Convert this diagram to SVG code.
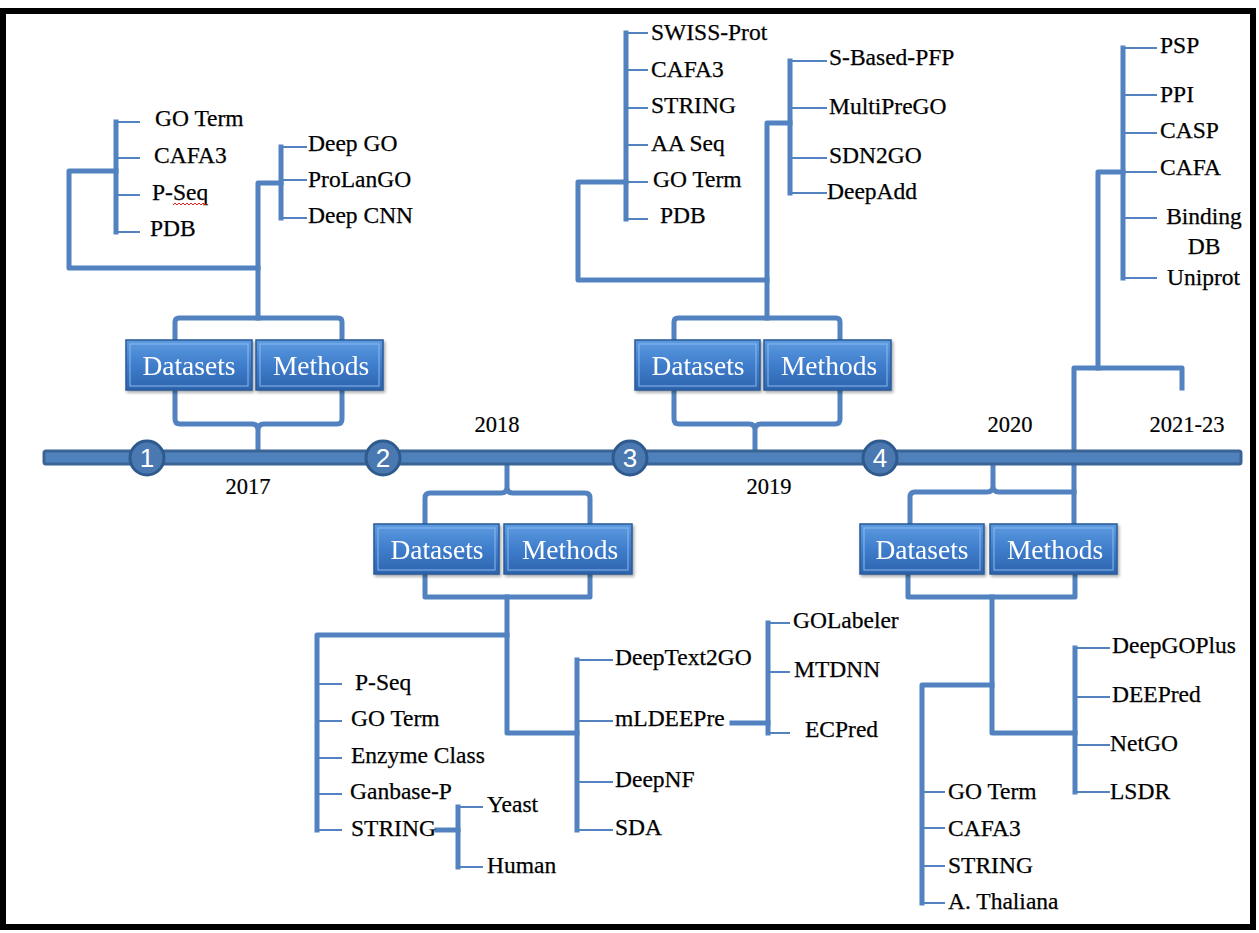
<svg xmlns="http://www.w3.org/2000/svg" width="1259" height="933" viewBox="0 0 1259 933">
<defs>
<linearGradient id="bx" x1="0" y1="0" x2="0" y2="1">
<stop offset="0" stop-color="#5d9be0"/>
<stop offset="0.5" stop-color="#3f7dcc"/>
<stop offset="1" stop-color="#2d64ad"/>
</linearGradient>
<filter id="sh" x="-10%" y="-10%" width="130%" height="140%">
<feDropShadow dx="1.5" dy="2" stdDeviation="1.5" flood-color="#000" flood-opacity="0.35"/>
</filter>
<style>
.k{fill:none;stroke:#5282bf;stroke-width:5;stroke-linejoin:round;stroke-linecap:square}
.t{fill:none;stroke:#5282bf;stroke-width:2.2}
.lf{font-family:"Liberation Serif","Times New Roman",serif;font-size:23.5px;fill:#000;stroke:#000;stroke-width:0.25}
.yr{font-family:"Liberation Serif","Times New Roman",serif;font-size:22.5px;fill:#000;stroke:#000;stroke-width:0.2;text-anchor:middle}
.bt{font-family:"Liberation Serif","Times New Roman",serif;font-size:27.5px;fill:#fff;text-anchor:middle}
.box{fill:url(#bx);stroke:#2a5a98;stroke-width:1.5}
.bev{fill:none;stroke:#8fbdf0;stroke-width:1.2;opacity:0.8}
.num{font-family:"Liberation Sans",Arial,sans-serif;font-size:26px;fill:#fff;text-anchor:middle}
</style>
</defs>
<rect x="0" y="0" width="1259" height="933" fill="#fff"/>
<rect x="3" y="11" width="1250" height="916" fill="#fff" stroke="#000" stroke-width="6"/>

<g id="connectors">
<!-- 2017 -->
<path class="k" d="M175,340 V322 Q175,318 179,318 H338 Q342,318 342,322 V340"/>
<path class="k" d="M258,318 V183 H281"/>
<path class="k" d="M258,268 H69 V171 H116"/>
<path class="k" d="M116,122 V232"/>
<path class="t" d="M116,122 H140 M116,158 H140 M116,195 H140 M116,232 H140"/>
<path class="k" d="M281,147 V218"/>
<path class="t" d="M281,147 H307 M281,180 H307 M281,218 H307"/>
<path class="k" d="M175,390 V419 Q175,424 180,424 H252 Q258,424 258,430 V451 M342,390 V419 Q342,424 337,424 H264 Q258,424 258,430"/>
<!-- 2019 -->
<path class="k" d="M674,340 V322 Q674,318 678,318 H836 Q840,318 840,322 V340"/>
<path class="k" d="M767,318 V123 H790"/>
<path class="k" d="M767,280 H578 V182 H626"/>
<path class="k" d="M626,33 V219"/>
<path class="t" d="M626,33 H648 M626,70 H648 M626,108 H648 M626,145 H648 M626,182 H648 M626,219 H648"/>
<path class="k" d="M790,61 V193"/>
<path class="t" d="M790,61 H827 M790,108 H827 M790,158 H827 M790,193 H827"/>
<path class="k" d="M674,390 V419 Q674,424 679,424 H749 Q755,424 755,430 V451 M840,390 V419 Q840,424 835,424 H761 Q755,424 755,430"/>
<!-- 2018 -->
<path class="k" d="M425,524 V498 Q425,493 430,493 H501 Q507,493 507,487 V465 M590,524 V498 Q590,493 585,493 H513 Q507,493 507,487"/>
<path class="k" d="M425,574 V597 H590 V574"/>
<path class="k" d="M507,597 V733 H577"/>
<path class="k" d="M507,635 H317 V830"/>
<path class="t" d="M317,684 H342 M317,721 H342 M317,758 H342 M317,794 H342 M317,830 H342"/>
<path class="k" d="M437,830 H458"/>
<path class="k" d="M458,807 V867"/>
<path class="t" d="M458,807 H483 M458,867 H483"/>
<path class="k" d="M577,660 V830"/>
<path class="t" d="M577,660 H613 M577,721 H613 M577,782 H613 M577,830 H613"/>
<path class="k" d="M732,723 H768"/>
<path class="k" d="M768,623 V733"/>
<path class="t" d="M768,623 H790 M768,672 H790 M768,733 H790"/>
<!-- 2020 -->
<path class="k" d="M910,524 V497 Q910,492 915,492 H987 Q993,492 993,486 V465 M1074,492 H999 Q993,492 993,486"/>
<path class="k" d="M908,574 V597 H1075 V574"/>
<path class="k" d="M992,597 V733 H1075"/>
<path class="k" d="M992,685 H922 V903"/>
<path class="t" d="M922,792 H945 M922,828 H945 M922,866 H945 M922,903 H945"/>
<path class="k" d="M1075,648 V792"/>
<path class="t" d="M1075,648 H1110 M1075,697 H1110 M1075,745 H1110 M1075,792 H1110"/>
<!-- 2021-23 -->
<path class="k" d="M1074,524 V368 H1182 V388"/>
<path class="k" d="M1098,368 V172 H1123"/>
<path class="k" d="M1123,48 V278"/>
<path class="t" d="M1123,48 H1157 M1123,95 H1157 M1123,133 H1157 M1123,172 H1157 M1123,218 H1157 M1123,278 H1157"/>
</g>

<g id="timeline">
<rect x="44" y="451" width="1197" height="13" rx="2" fill="#4f81bd" stroke="#3b6496" stroke-width="3"/>
</g>
<g id="m1"><circle cx="147" cy="458" r="17" fill="#4a78b0" stroke="#2f5a8e" stroke-width="3"/><text class="num" x="147" y="467">1</text></g>
<g id="m2"><circle cx="383" cy="458" r="17" fill="#4a78b0" stroke="#2f5a8e" stroke-width="3"/><text class="num" x="383" y="467">2</text></g>
<g id="m3"><circle cx="630" cy="458" r="17" fill="#4a78b0" stroke="#2f5a8e" stroke-width="3"/><text class="num" x="630" y="467">3</text></g>
<g id="m4"><circle cx="880" cy="458" r="17" fill="#4a78b0" stroke="#2f5a8e" stroke-width="3"/><text class="num" x="880" y="467">4</text></g>

<g id="years">
<text class="yr" x="248" y="494">2017</text>
<text class="yr" x="497" y="432">2018</text>
<text class="yr" x="769" y="494">2019</text>
<text class="yr" x="1010" y="432">2020</text>
<text class="yr" x="1187" y="432">2021-23</text>
</g>

<g id="boxes2017" filter="url(#sh)">
<rect class="box" x="126" y="340" width="126" height="50"/><rect class="bev" x="130" y="344" width="118" height="42"/>
<text class="bt" x="189" y="375">Datasets</text>
<rect class="box" x="256" y="340" width="127" height="50"/><rect class="bev" x="260" y="344" width="119" height="42"/>
<text class="bt" x="321" y="375">Methods</text>
</g>
<g id="boxes2019" filter="url(#sh)">
<rect class="box" x="635" y="340" width="125" height="50"/><rect class="bev" x="639" y="344" width="117" height="42"/>
<text class="bt" x="698" y="375">Datasets</text>
<rect class="box" x="764" y="340" width="127" height="50"/><rect class="bev" x="768" y="344" width="119" height="42"/>
<text class="bt" x="829" y="375">Methods</text>
</g>
<g id="boxes2018" filter="url(#sh)">
<rect class="box" x="374" y="524" width="125" height="50"/><rect class="bev" x="378" y="528" width="117" height="42"/>
<text class="bt" x="437" y="559">Datasets</text>
<rect class="box" x="504" y="524" width="128" height="50"/><rect class="bev" x="508" y="528" width="120" height="42"/>
<text class="bt" x="570" y="559">Methods</text>
</g>
<g id="boxes2020" filter="url(#sh)">
<rect class="box" x="860" y="524" width="124" height="50"/><rect class="bev" x="864" y="528" width="116" height="42"/>
<text class="bt" x="922" y="559">Datasets</text>
<rect class="box" x="990" y="524" width="127" height="50"/><rect class="bev" x="994" y="528" width="119" height="42"/>
<text class="bt" x="1055" y="559">Methods</text>
</g>

<g id="leaves2017">
<text class="lf" x="155" y="126">GO Term</text>
<text class="lf" x="154" y="163">CAFA3</text>
<text class="lf" x="152" y="200">P-Seq</text>
<path d="M173,205 l2,-2 l2,2 l2,-2 l2,2 l2,-2 l2,2 l2,-2 l2,2 l2,-2 l2,2 l2,-2 l2,2 l2,-2 l2,2 l2,-2 l2,2 l2,-2" fill="none" stroke="#e02020" stroke-width="1"/>
<text class="lf" x="150" y="236">PDB</text>
<text class="lf" x="308" y="151">Deep GO</text>
<text class="lf" x="308" y="187">ProLanGO</text>
<text class="lf" x="308" y="223">Deep CNN</text>
</g>
<g id="leaves2019">
<text class="lf" x="651" y="40">SWISS-Prot</text>
<text class="lf" x="651" y="77">CAFA3</text>
<text class="lf" x="651" y="113">STRING</text>
<text class="lf" x="651" y="151">AA Seq</text>
<text class="lf" x="653" y="187">GO Term</text>
<text class="lf" x="660" y="223">PDB</text>
<text class="lf" x="829" y="65">S-Based-PFP</text>
<text class="lf" x="829" y="114">MultiPreGO</text>
<text class="lf" x="829" y="163">SDN2GO</text>
<text class="lf" x="827" y="199">DeepAdd</text>
</g>
<g id="leaves2018">
<text class="lf" x="355" y="690">P-Seq</text>
<text class="lf" x="351" y="726">GO Term</text>
<text class="lf" x="351" y="763">Enzyme Class</text>
<text class="lf" x="350" y="799">Ganbase-P</text>
<text class="lf" x="351" y="836">STRING</text>
<text class="lf" x="487" y="812">Yeast</text>
<text class="lf" x="487" y="873">Human</text>
<text class="lf" x="615" y="665">DeepText2GO</text>
<text class="lf" x="615" y="726">mLDEEPre</text>
<text class="lf" x="615" y="787">DeepNF</text>
<text class="lf" x="615" y="835">SDA</text>
<text class="lf" x="793" y="628">GOLabeler</text>
<text class="lf" x="794" y="677">MTDNN</text>
<text class="lf" x="805" y="737">ECPred</text>
</g>
<g id="leaves2020">
<text class="lf" x="948" y="799">GO Term</text>
<text class="lf" x="948" y="836">CAFA3</text>
<text class="lf" x="948" y="873">STRING</text>
<text class="lf" x="948" y="909">A. Thaliana</text>
<text class="lf" x="1112" y="653">DeepGOPlus</text>
<text class="lf" x="1112" y="702">DEEPred</text>
<text class="lf" x="1110" y="751">NetGO</text>
<text class="lf" x="1110" y="799">LSDR</text>
</g>
<g id="leaves2021">
<text class="lf" x="1160" y="53">PSP</text>
<text class="lf" x="1160" y="102">PPI</text>
<text class="lf" x="1160" y="138">CASP</text>
<text class="lf" x="1160" y="175">CAFA</text>
<text class="lf" x="1204" y="224" text-anchor="middle">Binding</text>
<text class="lf" x="1204" y="254" text-anchor="middle">DB</text>
<text class="lf" x="1167" y="285">Uniprot</text>
</g>
</svg>
